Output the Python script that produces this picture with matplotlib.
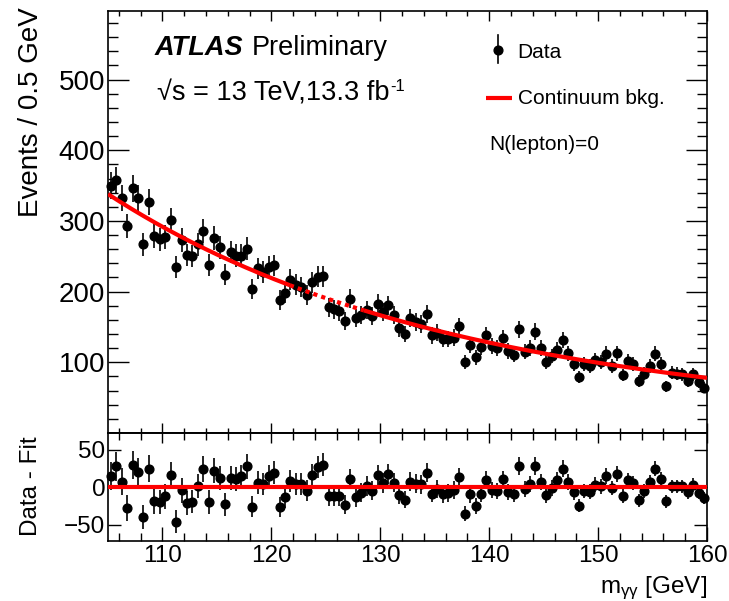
import numpy as np
import matplotlib
matplotlib.use("Agg")
import matplotlib.pyplot as plt
from matplotlib.ticker import MultipleLocator
from matplotlib.lines import Line2D

plt.rcParams['font.family'] = ['Liberation Sans', 'DejaVu Sans']
plt.rcParams['mathtext.fontset'] = 'custom'
plt.rcParams['mathtext.rm'] = 'Liberation Sans'
plt.rcParams['mathtext.it'] = 'Liberation Sans:italic'
plt.rcParams['mathtext.bf'] = 'Liberation Sans:bold'

# ---- binning: 0.5 GeV bins between 105 and 160 GeV ----
m_edges = np.arange(105.0, 160.0 + 0.25, 0.5)
m_centers = 0.5 * (m_edges[:-1] + m_edges[1:])

# ---- diphoton event counts per bin ----
counts = np.array([
    350, 358, 333, 293, 346, 332, 267, 327, 279, 274,
    277, 301, 235, 273, 252, 250, 267, 286, 238, 276,
    263, 224, 256, 251, 251, 261, 204, 233, 228, 235,
    237, 188, 198, 217, 210, 207, 195, 213, 221, 222,
    178, 175, 172, 158, 190, 163, 167, 174, 165, 183,
    171, 181, 167, 148, 140, 162, 157, 154, 168, 138,
    142, 133, 133, 135, 151, 100, 124, 107, 121, 138,
    123, 120, 134, 116, 111, 147, 115, 120, 143, 120,
    101, 109, 118, 132, 113, 98, 79, 97, 95, 103,
    100, 112, 95, 113, 82, 102, 97, 73, 84, 95,
    112, 97, 66, 85, 84, 83, 74, 83, 72, 64,
], dtype=float)

# ---- continuum background fit: exp(p0 + p1*t + p2*t^2), t = (m-105)/55 ----
fit_p0, fit_p1, fit_p2 = 5.823, -1.633, 0.167
fit_lo, fit_hi = 105.0, 160.0
blind_lo, blind_hi = 121.7, 128.5   # drawn dotted inside this window


def bkg(m):
    t = (np.asarray(m) - fit_lo) / (fit_hi - fit_lo)
    return np.exp(fit_p0 + fit_p1 * t + fit_p2 * t ** 2)


errors = np.sqrt(counts)
residuals = counts - bkg(m_centers)

# ---- figure layout ----
W, H = 729, 601
fig = plt.figure(figsize=(W / 100, H / 100), dpi=100)
left, right = 108, 707
main_top, split, ratio_bot = 11, 433, 541
ax = fig.add_axes([left / W, 1 - split / H, (right - left) / W, (split - main_top) / H])
axr = fig.add_axes([left / W, 1 - ratio_bot / H, (right - left) / W, (ratio_bot - split) / H])

red = '#ff0000'
ms = 6.3

# ---- main panel ----
ax.errorbar(m_centers, counts, yerr=errors, fmt='o', color='black', ms=ms,
            elinewidth=1.2, capsize=0, zorder=3, clip_on=False)

m_fine_a = np.linspace(fit_lo, blind_lo, 200)
m_fine_b = np.linspace(blind_lo, blind_hi, 100)
m_fine_c = np.linspace(blind_hi, fit_hi, 200)
ax.plot(m_fine_a, bkg(m_fine_a), color=red, lw=3, zorder=4, solid_capstyle='butt')
ax.plot(m_fine_b, bkg(m_fine_b), color=red, lw=3, zorder=4, linestyle=(0, (1, 1)))
ax.plot(m_fine_c, bkg(m_fine_c), color=red, lw=3, zorder=4, solid_capstyle='butt')

ax.set_xlim(105, 160)
ax.set_ylim(0, 597)
ax.xaxis.set_major_locator(MultipleLocator(10))
ax.xaxis.set_minor_locator(MultipleLocator(2))
ax.set_yticks([100, 200, 300, 400, 500])
ax.yaxis.set_minor_locator(MultipleLocator(20))
ax.tick_params(axis='both', which='both', direction='in', top=True, right=True,
               labelbottom=False, width=1.0)
ax.tick_params(axis='y', which='major', length=15, labelsize=20, pad=2)
ax.tick_params(axis='y', which='minor', length=7.2)
ax.tick_params(axis='x', which='major', length=7.5)
ax.tick_params(axis='x', which='minor', length=3.8)
for s in ax.spines.values():
    s.set_linewidth(1.2)


def fx(px):
    return (px - left) / (right - left)


def fy(py):
    return (split - py) / (split - main_top)


# ---- labels inside the main panel ----
ax.text(fx(155), fy(55), 'ATLAS', transform=ax.transAxes, fontsize=19.5,
        fontweight='bold', fontstyle='italic', va='baseline', ha='left')
ax.text(fx(252), fy(55), 'Preliminary', transform=ax.transAxes, fontsize=19.5,
        va='baseline', ha='left')
lumi = ax.text(fx(157), fy(100), '\u221as = 13 TeV,13.3 fb',
               transform=ax.transAxes, fontsize=19.5, va='baseline', ha='left')
fig.canvas.draw()
bb = lumi.get_window_extent()
sup_x = ax.transAxes.inverted().transform((bb.x1 + 1, 0))[0]
ax.text(sup_x, fy(91), '-1', transform=ax.transAxes, fontsize=12,
        va='baseline', ha='left')

# legend entries
ax.add_line(Line2D([fx(498)], [fy(50)], marker='o', color='black', ms=ms,
                   transform=ax.transAxes))
ax.add_line(Line2D([fx(498), fx(498)], [fy(35), fy(63)], color='black', lw=1.2,
                   transform=ax.transAxes))
ax.text(fx(517), fy(53), 'Data', transform=ax.transAxes, fontsize=15,
        va='center', ha='left')
ax.add_line(Line2D([fx(486), fx(512)], [fy(98), fy(98)], color=red, lw=3,
                   transform=ax.transAxes, solid_capstyle='butt'))
ax.text(fx(518), fy(99), 'Continuum bkg.', transform=ax.transAxes, fontsize=15,
        va='center', ha='left')
ax.text(fx(489), fy(145), 'N(lepton)=0', transform=ax.transAxes, fontsize=15,
        va='center', ha='left')

# ---- residual panel ----
axr.axhline(0, color=red, lw=3, zorder=4)
axr.errorbar(m_centers, residuals, yerr=errors, fmt='o', color='black', ms=ms,
             elinewidth=1.2, capsize=0, zorder=3, clip_on=False)
axr.set_xlim(105, 160)
axr.set_ylim(-72, 72)
axr.set_yticks([-50, 0, 50])
axr.xaxis.set_major_locator(MultipleLocator(10))
axr.xaxis.set_minor_locator(MultipleLocator(2))
axr.tick_params(axis='both', which='both', direction='in', top=False, right=True,
                width=1.0)
axr.tick_params(axis='y', which='major', length=9.5, labelsize=17.5, pad=2)
axr.tick_params(axis='x', which='major', length=10, labelsize=17.5, pad=3)
axr.tick_params(axis='x', which='minor', length=5.8)
for s in axr.spines.values():
    s.set_linewidth(1.2)

top_ax = axr.secondary_xaxis('top')
top_ax.xaxis.set_major_locator(MultipleLocator(10))
top_ax.xaxis.set_minor_locator(MultipleLocator(2))
top_ax.tick_params(axis='x', which='major', direction='in', length=7.5, width=1.0,
                   labeltop=False)
top_ax.tick_params(axis='x', which='minor', direction='in', length=5, width=1.0)
top_ax.spines['top'].set_linewidth(1.2)

# ---- axis titles ----
fig.text(31 / W, 1 - 7 / H, 'Events / 0.5 GeV', rotation=90, fontsize=20,
         ha='center', va='top')
fig.text(31 / W, 1 - 436 / H, 'Data - Fit', rotation=90, fontsize=17.5,
         ha='center', va='top')
fig.text(right / W, 1 - 593 / H, 'm$_{\\mathregular{\u03b3\u03b3}}$ [GeV]',
         fontsize=17.5, ha='right', va='baseline')

fig.savefig('out.png', dpi=100)
